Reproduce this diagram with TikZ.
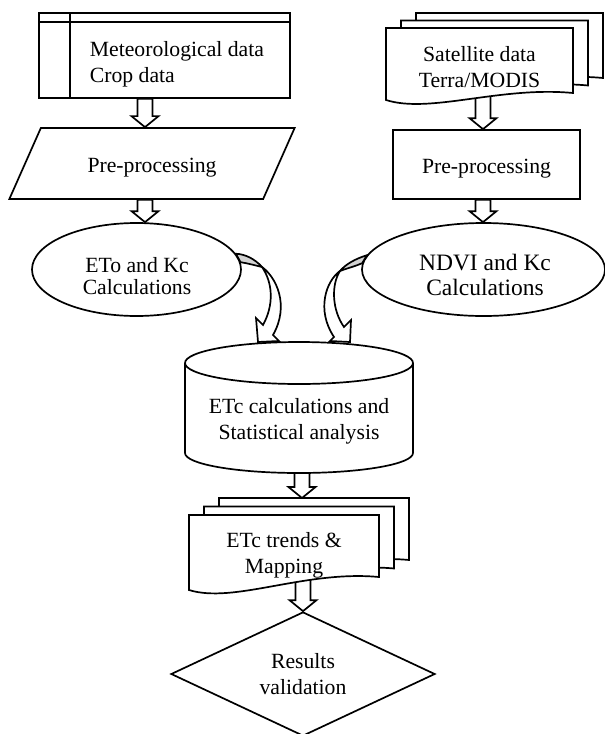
\documentclass[tikz,border=0pt]{standalone}
\usepackage{fontspec}
\setmainfont{Liberation Serif}
\usetikzlibrary{shapes.geometric,backgrounds,calc}

\begin{document}
\begin{tikzpicture}[x=1pt,y=-1pt,line width=1.7pt,
    box/.style={draw,fill=white,inner sep=0pt,align=center,font=\fontsize{21.7}{26}\selectfont},
    txt/.style={inner sep=0pt,align=center,font=\fontsize{21.7}{26}\selectfont},
    docbox/.style={draw,fill=white},
    hollow/.style={draw,fill=white,line width=1.7pt,to path={let \p1=(\tikztostart),\p2=(\tikztotarget) in
        (\x1-7.5pt,\y1) -- (\x1-7.5pt,\y2+11pt) -- (\x1-13.5pt,\y2+11pt) -- (\x1,\y2)
        -- (\x1+13.5pt,\y2+11pt) -- (\x1+7.5pt,\y2+11pt) -- (\x1+7.5pt,\y1) -- cycle}},
    flap/.style={draw,fill=gray!35,line width=1.7pt},
    curvearrow/.style={draw,fill=white,line width=1.7pt}]

	\useasboundingbox (0,0) rectangle (605,734);

	% left branch
	\node[box,minimum width=251pt,minimum height=85pt] at (164.5,55.5) (met) {};
	\draw ([yshift=-10pt]met.north west) -- ([yshift=-10pt]met.north east);
	\draw ([xshift=32pt]met.north west) -- ([xshift=32pt]met.south west);
	\node[txt,align=left,anchor=west] at (89,64.5) (mettxt) {Meteorological data\\Crop data};

	\node[box,trapezium,trapezium left angle=50.3,trapezium right angle=129.7,trapezium stretches=true,
		minimum width=286pt,minimum height=71pt,text height=20pt,text depth=2pt] at (152,163.5) (pre1) {Pre-processing};
	\node[box,ellipse,minimum width=209pt,minimum height=93pt] at (136.5,269.5) (eto) {};
	\node[txt,font=\fontsize{21.7}{22}\selectfont] at (137,276) (etotxt) {ETo and Kc\\Calculations};

	% right branch
	\foreach \d in {30,15,0}
		\draw[docbox,shift={(\d,-\d/2)}] (386,28) -- (573,28) -- (573,93) .. controls (500,86) and (430,114) .. (386,100) -- cycle;
	\node[txt] at (479.5,67) (sat) {Satellite data\\Terra/MODIS};

	\node[box,minimum width=187pt,minimum height=69pt,text height=20pt,text depth=2pt] at (486.5,164.5) (pre2) {Pre-processing};
	\node[box,ellipse,minimum width=243pt,minimum height=93pt] at (483.5,269.5) (ndvi) {};
	\node[txt,font=\fontsize{23.5}{25}\selectfont] at (485,275) (ndvitxt) {NDVI and Kc\\Calculations};

	% bottom part
	\draw[docbox] (185,363) -- (185,453) arc (180:0:114 and 20) -- (413,363);
	\draw[docbox] (299,363) ellipse (114 and 21);
	\node[txt] at (299,421.5) (cyl) {ETc calculations and\\Statistical analysis};

	\foreach \d in {30,15,0}
		\draw[docbox,shift={(\d,-\d*0.567)}] (189,515) -- (379,515) -- (379,577) .. controls (305,570) and (234,604) .. (189,590) -- cycle;
	\node[txt] at (284,555) (trend) {ETc trends \&\\Mapping};
	\coordinate (trendtop) at (302,498);

	\node[box,diamond,aspect=2.13,minimum width=264pt,minimum height=124pt] at (303,674) (res) {Results\\validation};

	% arrows
	\coordinate (tipL) at (258,342);
	\coordinate (tipR) at (350,342);
	\begin{scope}[on background layer]
		\draw[hollow] ([xshift=-19.5pt]met.south) to (pre1.north);
		\draw[hollow] ([xshift=-7pt]pre1.south) to (eto.north);
		\draw[hollow] ([xshift=3.5pt]sat.south) to (pre2.north);
		\draw[hollow] ([xshift=-3.5pt]pre2.south) to (ndvi.north);
		\draw[hollow] ([xshift=3pt]cyl.south) to (trendtop);
		\draw[hollow] ([xshift=19pt]trend.south) to (res.north);

		\draw[flap] (eto.9.6) .. controls (245,254) and (255,259) .. (262,267) .. controls (254,265) and (246,263) .. (eto.4.2) -- cycle;
		\draw[curvearrow] (262,267) .. controls (276,277) and (290,305) .. (273,335) -- (279,341) -- (tipL) -- (256,318) -- (263,325) .. controls (274,305) and (273,283) .. (262,267) -- cycle;
		\draw[flap] (ndvi.173.7) .. controls (355,259) and (346,264) .. (340,271) .. controls (348,268) and (356,266) .. (ndvi.177.9) -- cycle;
		\draw[curvearrow] (340,271) .. controls (326,281) and (316,310) .. (334,337) -- (330,341) -- (tipR) -- (351,320) -- (344,327) .. controls (332,310) and (331,285) .. (340,271) -- cycle;
	\end{scope}
\end{tikzpicture}
\end{document}
